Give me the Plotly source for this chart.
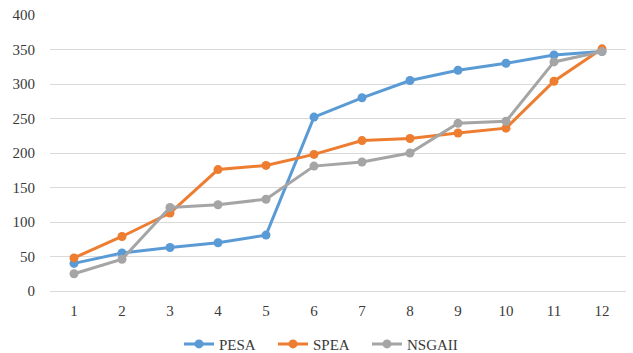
import plotly.graph_objects as go

categories = [str(i) for i in range(1, 13)]
pesa = [40, 55, 63, 70, 81, 252, 280, 305, 320, 330, 342, 347]
spea = [48, 79, 113, 176, 182, 198, 218, 221, 229, 236, 304, 351]
nsgaii = [25, 46, 121, 125, 133, 181, 187, 200, 243, 246, 332, 347]
y_ticks = [0, 50, 100, 150, 200, 250, 300, 350, 400]

series = [
    ("PESA", pesa, "#5B9BD5"),
    ("SPEA", spea, "#ED7D31"),
    ("NSGAII", nsgaii, "#A5A5A5"),
]

SERIF = "'Liberation Serif', 'Times New Roman', 'DejaVu Serif', serif"

fig = go.Figure()
for name, vals, color in series:
    fig.add_trace(go.Scatter(
        x=categories, y=vals, name=name, mode="lines+markers",
        line=dict(color=color, width=3),
        marker=dict(color=color, size=9),
    ))

fig.update_layout(
    width=633, height=353,
    margin=dict(l=50, r=7, t=15, b=62),
    paper_bgcolor="white", plot_bgcolor="white",
    font=dict(family=SERIF, size=15, color="#3a3a3a"),
    showlegend=True,
    legend=dict(
        orientation="h", x=179 / 633, xanchor="left", xref="container",
        y=0.025, yanchor="middle", yref="container",
        font=dict(family=SERIF, size=15, color="#3a3a3a"),
        itemwidth=30, tracegroupgap=0,
        entrywidth=49, entrywidthmode="pixels",
    ),
    xaxis=dict(
        type="category", range=[-0.5, 11.5],
        showgrid=False, showline=False, zeroline=False,
        ticks="", tickfont=dict(family=SERIF, size=15), ticklabelstandoff=9,
    ),
    yaxis=dict(
        range=[0, 400], tickvals=y_ticks,
        showgrid=True, gridcolor="#D9D9D9", gridwidth=1,
        zeroline=True, zerolinecolor="#D9D9D9", zerolinewidth=1,
        showline=False, ticks="", ticklabelstandoff=14,
        tickfont=dict(family=SERIF, size=15),
    ),
)

fig.write_html("out.html")
